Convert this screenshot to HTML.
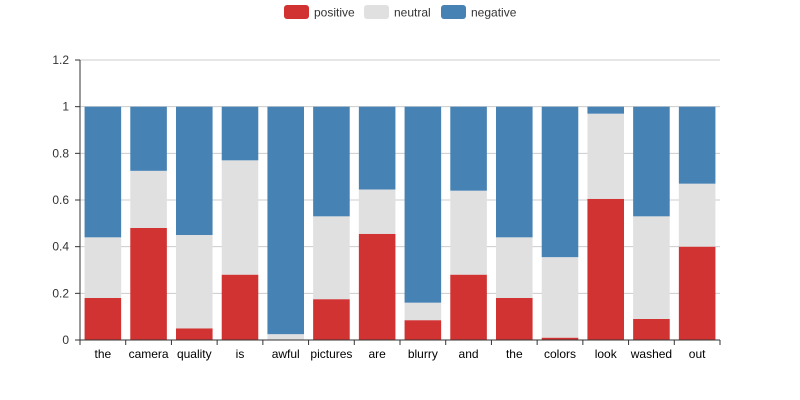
<!DOCTYPE html>
<html><head><meta charset="utf-8"><style>
body{margin:0;background:#fff;font-family:"Liberation Sans",sans-serif;}
svg{display:block}
</style></head><body>
<svg id="chart" width="800" height="400">
<g id="legend">
<g><rect x="284" y="5" width="25" height="14" rx="3" fill="#d03332"/><text x="314" y="16.5" font-size="12" fill="#333">positive</text></g>
<g><rect x="364" y="5" width="25" height="14" rx="3" fill="#e0e0e0"/><text x="394" y="16.5" font-size="12" fill="#333">neutral</text></g>
<g><rect x="441" y="5" width="25" height="14" rx="3" fill="#4682b4"/><text x="471" y="16.5" font-size="12" fill="#333">negative</text></g>
</g>
</svg>
<script>
const categories=["the","camera","quality","is","awful","pictures","are","blurry","and","the","colors","look","washed","out"];
const positive=[0.18,0.48,0.05,0.28,0,0.175,0.455,0.085,0.28,0.18,0.01,0.605,0.09,0.4];
const neutral=[0.26,0.245,0.40,0.49,0.025,0.355,0.19,0.075,0.36,0.26,0.345,0.365,0.44,0.27];
const negative=positive.map((p,i)=>+(1-p-neutral[i]).toFixed(3));
const yTicks=[0,0.2,0.4,0.6,0.8,1,1.2];
const yTickLabels=["0","0.2","0.4","0.6","0.8","1","1.2"];
const NS="http://www.w3.org/2000/svg";
const svg=document.getElementById('chart');
const X0=80,X1=720,Y0=340,Y1=60,YMAX=1.2;
const y=v=>Y0-(v/YMAX)*(Y0-Y1);
const band=(X1-X0)/categories.length;
const x=i=>X0+i*band;
function mk(t,a){const e=document.createElementNS(NS,t);for(const k in a)e.setAttribute(k,a[k]);svg.appendChild(e);return e;}
yTicks.forEach((t,i)=>{
 if(t>0){const g=mk('line',{x1:X0,x2:X1,y1:y(t),y2:y(t),stroke:'#ccc','stroke-width':1});
 
 }
 const tk=mk('line',{x1:X0-5,x2:X0,y1:y(t),y2:y(t),stroke:'#333'});
 
 
 const tx=mk('text',{x:X0-11,y:y(t)+4,'font-size':12,fill:'#333','text-anchor':'end'});
 tx.textContent=yTickLabels[i];
 
 
});
const series=[[positive,'#d03332','positive'],[neutral,'#e0e0e0','neutral'],[negative,'#4682b4','negative']];
categories.forEach((c,i)=>{
 let base=0;
 const bw=band*0.8,bx=x(i)+(band-bw)/2;
 series.forEach(([arr,col,nm])=>{
  const v=arr[i];
  const r=mk('rect',{x:bx,y:y(base+v),width:bw,height:y(base)-y(base+v),fill:col});
  
  
  base+=v;
 });
 const tk=mk('line',{x1:x(i),x2:x(i),y1:Y0,y2:Y0+5,stroke:'#333'});
 
 
 const tx=mk('text',{x:x(i)+band/2,y:Y0+18,'font-size':12,fill:'#000','text-anchor':'middle'});
 tx.textContent=c;
 
 
});
const et=mk('line',{x1:X1,x2:X1,y1:Y0,y2:Y0+5,stroke:'#333'});


const ya=mk('line',{x1:X0,x2:X0,y1:Y1,y2:Y0,stroke:'#333'});


const xa=mk('line',{x1:X0,x2:X1,y1:Y0,y2:Y0,stroke:'#333'});


</script>
</body></html>
